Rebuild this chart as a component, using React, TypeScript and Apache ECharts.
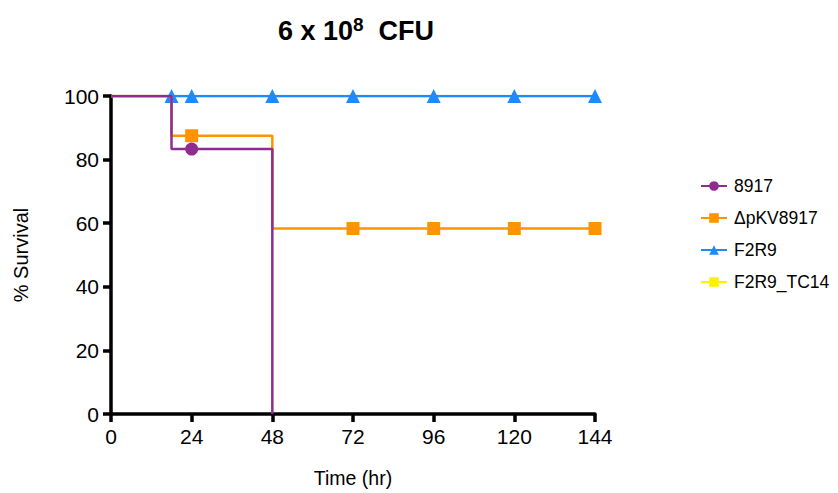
import React, { useEffect, useRef } from "react";
import * as echarts from "echarts";

const seriesNames = ["8917", "ΔpKV8917", "F2R9", "F2R9_TC14"];
const seriesColors = ["#8E2C90", "#FF9400", "#1A8CFF", "#FFF200"];
const seriesSymbols = ["circle", "rect", "triangle", "rect"];

const times8917 = [0, 18, 24, 48];
const surv8917 = [100, 83.33, 83.33, 0];
const mark8917 = [false, false, true, false];

const timesPKV = [0, 18, 24, 48, 72, 96, 120, 144];
const survPKV = [100, 87.5, 87.5, 58.33, 58.33, 58.33, 58.33, 58.33];
const markPKV = [false, false, true, false, true, true, true, true];

const timesF2R9 = [0, 18, 24, 48, 72, 96, 120, 144];
const survF2R9 = [100, 100, 100, 100, 100, 100, 100, 100];
const markF2R9 = [false, true, true, true, true, true, true, true];

const timesTC14 = [0, 144];
const survTC14 = [100, 100];
const markTC14 = [false, false];

const xTicks = [0, 24, 48, 72, 96, 120, 144];
const yTicks = [0, 20, 40, 60, 80, 100];

const allTimes = [times8917, timesPKV, timesF2R9, timesTC14];
const allSurv = [surv8917, survPKV, survF2R9, survTC14];
const allMarks = [mark8917, markPKV, markF2R9, markTC14];
const zOrder = [5, 4, 3, 2];

export default function App() {
  const ref = useRef<HTMLDivElement>(null);
  useEffect(() => {
    if (!ref.current) return;
    const chart = echarts.init(ref.current, null, { renderer: "svg" });
    const font = "'Liberation Sans', Arial, sans-serif";
    const series = seriesNames.map((name, i) => ({
      name,
      type: "line",
      step: "end",
      z: zOrder[i],
      color: seriesColors[i],
      symbol: seriesSymbols[i],
      symbolSize: i === 2 ? 14 : 13,
      showAllSymbol: true,
      lineStyle: { width: 2.5, color: seriesColors[i] },
      itemStyle: { color: seriesColors[i] },
      data: allTimes[i].map((t, j) => ({
        value: [t, allSurv[i][j]],
        symbol: allMarks[i][j] ? seriesSymbols[i] : "none",
      })),
    }));
    chart.setOption({
      animation: false,
      backgroundColor: "#fff",
      title: {
        text: "6 x 10{sup|8}  CFU",
        left: 351,
        textAlign: "center",
        top: 10,
        textStyle: {
          fontFamily: font,
          fontWeight: "bold",
          fontSize: 27,
          color: "#000",
          rich: {
            sup: {
              fontFamily: font,
              fontWeight: "bold",
              fontSize: 19,
              verticalAlign: "top",
              padding: [0, 0, 12, 0],
              color: "#000",
            },
          },
        },
      },
      legend: {
        orient: "vertical",
        left: 695,
        top: 172,
        itemGap: 14,
        itemWidth: 26,
        itemHeight: 12,
        data: seriesNames,
        textStyle: { fontFamily: font, fontSize: 17.5, color: "#000", padding: [0, 0, 0, 2] },
      },
      grid: { left: 111, right: 243, top: 96, bottom: 76, containLabel: false },
      xAxis: {
        type: "value",
        min: 0,
        max: 144,
        interval: 24,
        name: "Time (hr)",
        nameLocation: "middle",
        nameGap: 54,
        nameTextStyle: { fontFamily: font, fontSize: 19.5, color: "#000" },
        axisLine: { onZero: false, lineStyle: { color: "#000", width: 3.5 } },
        axisTick: { length: 8, lineStyle: { color: "#000", width: 3.5 } },
        axisLabel: { fontFamily: font, fontSize: 21, color: "#000", margin: 12 },
        splitLine: { show: false },
      },
      yAxis: {
        type: "value",
        min: 0,
        max: 100,
        interval: 20,
        name: "% Survival",
        nameLocation: "middle",
        nameGap: 80,
        nameRotate: 90,
        nameTextStyle: { fontFamily: font, fontSize: 20, color: "#000" },
        axisLine: { onZero: false, lineStyle: { color: "#000", width: 3.5 } },
        axisTick: { length: 8, lineStyle: { color: "#000", width: 3.5 } },
        axisLabel: { fontFamily: font, fontSize: 21, color: "#000", margin: 12 },
        splitLine: { show: false },
      },
      series,
    });
    return () => chart.dispose();
  }, []);
  return <div ref={ref} style={{ width: 838, height: 493, position: "absolute", left: 0, top: 0 }} />;
}
